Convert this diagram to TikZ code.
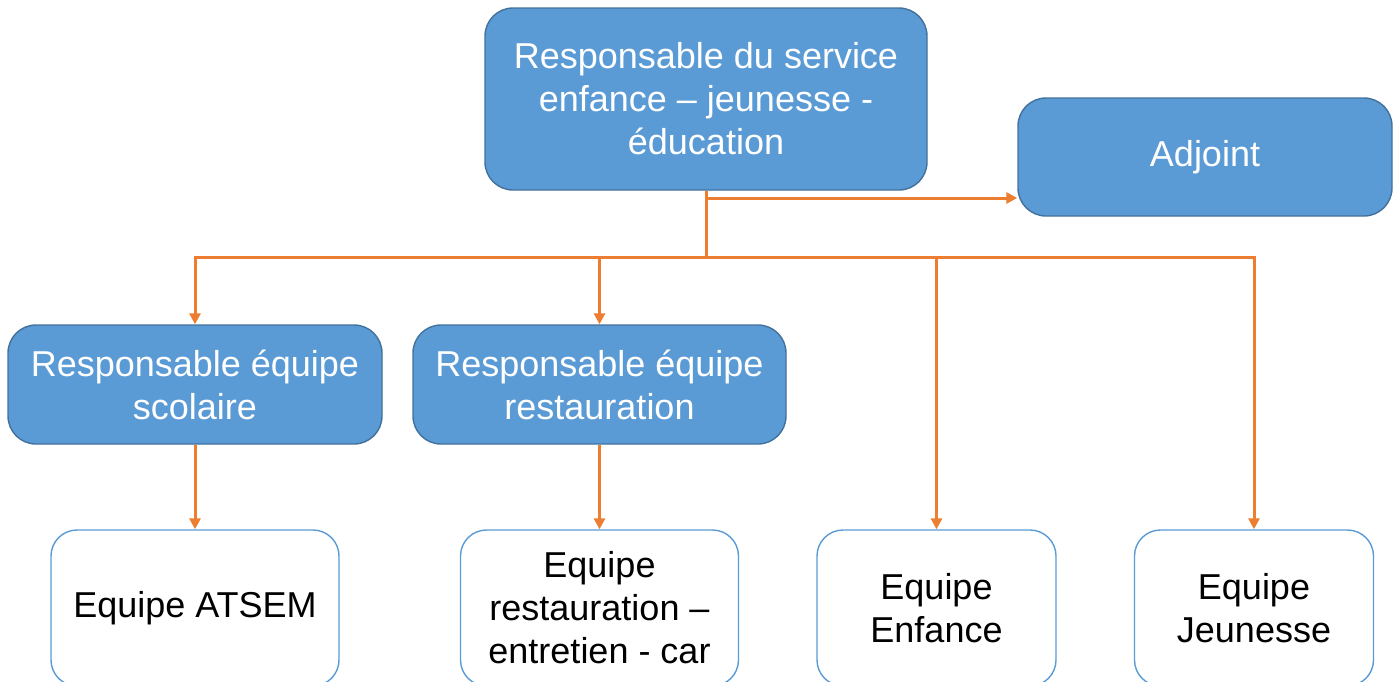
\documentclass[tikz,border=0pt]{standalone}
\usepackage{fontspec}
\setmainfont{Liberation Sans}
\usetikzlibrary{arrows.meta}
\definecolor{boxblue}{HTML}{5B9BD5}
\definecolor{boxedge}{HTML}{41719C}
\definecolor{linkorange}{HTML}{ED7D31}
\begin{document}
\begin{tikzpicture}[x=0.5pt,y=0.5pt,
  chef/.style={draw=boxedge,fill=boxblue,text=white,line width=0.7pt,
    rounded corners=14pt,align=center,inner sep=0pt,
    font=\fontsize{18}{21.5}\selectfont},
  equipe/.style={draw=boxblue,fill=white,text=black,line width=0.7pt,
    rounded corners=13pt,align=center,inner sep=0pt,
    font=\fontsize{18}{21.5}\selectfont},
  lien/.style={linkorange,line width=1.5pt,-{Triangle[width=5.5pt,length=5.5pt]}}]

  \useasboundingbox (0,0) rectangle (1399,-681);
  \clip (0,0) rectangle (1399,-681);

  % top of the chart
  \node[chef,minimum width=221pt,minimum height=91pt] (resp) at (706,-99)
    {Responsable du service\\enfance -- jeunesse -\\éducation};
  \node[chef,minimum width=187pt,minimum height=59pt] (adjoint) at (1205,-157) {Adjoint};

  % middle row
  \node[chef,minimum width=187pt,minimum height=59.5pt] (scol) at (195,-384.5)
    {Responsable équipe\\scolaire};
  \node[chef,minimum width=186.5pt,minimum height=59.5pt] (resto) at (599.5,-384.5)
    {Responsable équipe\\restauration};

  % teams
  \node[equipe,minimum width=144pt,minimum height=78pt] (atsem) at (195,-608) {Equipe ATSEM};
  \node[equipe,minimum width=139pt,minimum height=78pt] (eqresto) at (599.5,-608)
    {Equipe\\restauration --\\entretien - car};
  \node[equipe,minimum width=119.5pt,minimum height=78pt] (enfance) at (936.5,-608)
    {Equipe\\Enfance};
  \node[equipe,minimum width=119.5pt,minimum height=78pt] (jeunesse) at (1254,-608)
    {Equipe\\Jeunesse};

  % links
  \coordinate (split) at (706,-198);
  \coordinate (bus) at (706,-257);
  \draw[linkorange,line width=1.5pt] (resp.south) -- (bus);
  \draw[lien] (split) -- (split -| adjoint.west);
  \draw[lien] (bus) -| (scol.north);
  \draw[lien] (bus) -| (resto.north);
  \draw[lien] (bus) -| (enfance.north);
  \draw[lien] (bus) -| (jeunesse.north);
  \draw[lien] (scol) -- (atsem);
  \draw[lien] (resto) -- (eqresto);

\end{tikzpicture}
\end{document}
